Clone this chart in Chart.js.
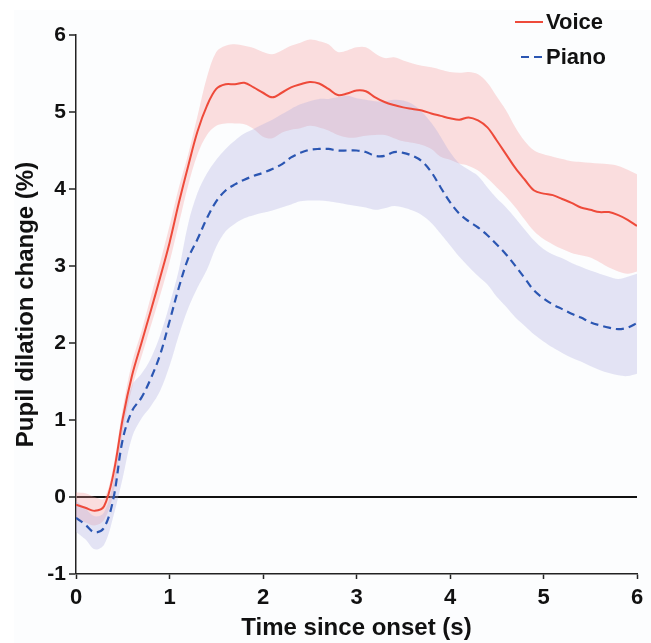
<!DOCTYPE html>
<html>
<head>
<meta charset="utf-8">
<script src="https://cdn.jsdelivr.net/npm/chart.js@4/dist/chart.umd.min.js"></script>
<style>
  html, body { margin: 0; padding: 0; background: #ffffff; }
  #wrap { width: 651px; height: 643px; position: relative; }
</style>
</head>
<body>
<div id="wrap"><canvas id="c" width="651" height="643"></canvas></div>
<script>
const times = [0.0,0.1,0.2,0.3,0.4,0.5,0.6,0.7,0.8,0.9,1.0,1.1,1.2,1.3,1.4,1.5,1.6,1.7,1.8,1.9,2.0,2.1,2.2,2.3,2.4,2.5,2.6,2.7,2.8,2.9,3.0,3.1,3.2,3.3,3.4,3.5,3.6,3.7,3.8,3.9,4.0,4.1,4.2,4.3,4.4,4.5,4.6,4.7,4.8,4.9,5.0,5.1,5.2,5.3,5.4,5.5,5.6,5.7,5.8,5.9,6.0];

const voiceMean = [-0.10,-0.14,-0.18,-0.12,0.30,1.02,1.58,2.00,2.42,2.85,3.30,3.82,4.30,4.75,5.08,5.30,5.36,5.36,5.38,5.32,5.25,5.19,5.25,5.32,5.36,5.39,5.37,5.30,5.22,5.24,5.28,5.27,5.19,5.13,5.09,5.06,5.04,5.02,4.98,4.95,4.92,4.90,4.93,4.89,4.80,4.63,4.45,4.27,4.12,3.98,3.94,3.92,3.87,3.82,3.76,3.73,3.70,3.70,3.66,3.60,3.52];
const voiceUpper = [0.06,0.05,0.00,-0.02,0.40,1.15,1.75,2.15,2.60,3.05,3.52,4.02,4.45,4.95,5.45,5.78,5.86,5.88,5.86,5.83,5.78,5.75,5.80,5.86,5.90,5.94,5.92,5.88,5.78,5.80,5.84,5.84,5.76,5.70,5.71,5.67,5.63,5.60,5.58,5.55,5.52,5.51,5.52,5.49,5.38,5.20,5.02,4.80,4.62,4.50,4.45,4.42,4.39,4.36,4.35,4.34,4.33,4.32,4.30,4.25,4.19];
const voiceLower = [-0.30,-0.33,-0.37,-0.30,0.05,0.85,1.42,1.82,2.22,2.62,3.05,3.55,4.05,4.45,4.70,4.82,4.85,4.85,4.84,4.78,4.68,4.66,4.73,4.77,4.79,4.82,4.80,4.76,4.70,4.67,4.67,4.69,4.70,4.70,4.66,4.62,4.60,4.57,4.52,4.42,4.38,4.33,4.30,4.24,4.14,4.02,3.90,3.76,3.60,3.45,3.35,3.28,3.22,3.17,3.14,3.11,3.05,2.98,2.93,2.90,2.93];

const pianoMean = [-0.27,-0.36,-0.46,-0.40,-0.02,0.75,1.12,1.29,1.54,1.85,2.28,2.72,3.10,3.35,3.62,3.84,3.98,4.06,4.12,4.17,4.21,4.26,4.32,4.41,4.47,4.51,4.52,4.52,4.50,4.50,4.50,4.48,4.43,4.43,4.48,4.47,4.43,4.36,4.22,4.02,3.83,3.68,3.58,3.50,3.40,3.28,3.15,3.00,2.84,2.68,2.58,2.50,2.44,2.38,2.33,2.27,2.23,2.20,2.18,2.20,2.26];
const pianoUpper = [-0.05,-0.15,-0.25,-0.20,0.20,1.00,1.45,1.60,1.80,2.10,2.50,2.95,3.55,3.95,4.20,4.38,4.52,4.63,4.72,4.78,4.84,4.90,4.97,5.04,5.10,5.14,5.17,5.17,5.19,5.21,5.18,5.16,5.14,5.14,5.16,5.15,5.10,5.00,4.86,4.68,4.48,4.33,4.25,4.17,4.02,3.88,3.76,3.62,3.47,3.33,3.22,3.15,3.10,3.04,2.99,2.94,2.90,2.86,2.83,2.86,2.90];
const pianoLower = [-0.45,-0.55,-0.68,-0.62,-0.25,0.25,0.78,1.02,1.18,1.38,1.70,2.10,2.45,2.72,2.95,3.25,3.45,3.55,3.62,3.66,3.69,3.72,3.76,3.80,3.84,3.85,3.85,3.84,3.82,3.80,3.78,3.76,3.73,3.75,3.78,3.76,3.72,3.66,3.56,3.42,3.27,3.12,2.99,2.87,2.76,2.60,2.47,2.33,2.22,2.11,2.02,1.94,1.87,1.81,1.76,1.70,1.65,1.61,1.58,1.57,1.60];

const xTicks = [0,1,2,3,4,5,6];
const yTicks = [-1,0,1,2,3,4,5,6];
const seriesNames = ['Voice', 'Piano'];

const pts = arr => times.map((t, i) => ({x: t, y: arr[i]}));

const RED = '#ee4a3a';
const BLUE = '#2b56b2';
const FONT = "'Liberation Sans', Arial, Helvetica, sans-serif";

const legendPlugin = {
  id: 'customLegend',
  afterDraw(chart) {
    const ctx = chart.ctx;
    ctx.save();
    ctx.font = 'bold 22px ' + FONT;
    ctx.fillStyle = '#111';
    ctx.textBaseline = 'middle';
    ctx.textAlign = 'left';
    ctx.strokeStyle = RED; ctx.lineWidth = 2; ctx.setLineDash([]);
    ctx.beginPath(); ctx.moveTo(515, 22); ctx.lineTo(543, 22); ctx.stroke();
    ctx.fillText(seriesNames[0], 546, 23);
    ctx.strokeStyle = BLUE; ctx.lineWidth = 2.2; ctx.setLineDash([8, 5]);
    ctx.beginPath(); ctx.moveTo(521, 57); ctx.lineTo(543, 57); ctx.stroke();
    ctx.setLineDash([]);
    ctx.fillText(seriesNames[1], 546, 58);
    ctx.restore();
  }
};

const bgPlugin = {
  id: 'bg',
  beforeDraw(chart) {
    const ctx = chart.ctx;
    ctx.save();
    ctx.fillStyle = '#fcfdfe';
    ctx.fillRect(14, 10, chart.width - 14, chart.height - 10);
    ctx.restore();
  }
};

new Chart(document.getElementById('c'), {
  type: 'line',
  data: {
    datasets: [
      { label: seriesNames[0], data: pts(voiceMean), borderColor: RED, borderWidth: 2, pointRadius: 0, fill: false, tension: 0.35, order: 0 },
      { label: seriesNames[1], data: pts(pianoMean), borderColor: BLUE, borderWidth: 2.2, borderDash: [8, 5], pointRadius: 0, fill: false, tension: 0.35, order: 1 },
      { label: 'PianoUpper', data: pts(pianoUpper), borderWidth: 0, borderColor: 'rgba(0,0,0,0)', backgroundColor: 'rgba(170,170,222,0.3)', pointRadius: 0, fill: 3, tension: 0.35, order: 2 },
      { label: 'PianoLower', data: pts(pianoLower), borderWidth: 0, borderColor: 'rgba(0,0,0,0)', pointRadius: 0, fill: false, tension: 0.35, order: 3 },
      { label: 'VoiceUpper', data: pts(voiceUpper), borderWidth: 0, borderColor: 'rgba(0,0,0,0)', backgroundColor: 'rgba(246,150,150,0.3)', pointRadius: 0, fill: 5, tension: 0.35, order: 4 },
      { label: 'VoiceLower', data: pts(voiceLower), borderWidth: 0, borderColor: 'rgba(0,0,0,0)', pointRadius: 0, fill: false, tension: 0.35, order: 5 }
    ]
  },
  options: {
    responsive: false,
    animation: false,
    devicePixelRatio: 1,
    layout: { padding: { top: 35, right: 14, left: 0, bottom: 0 } },
    plugins: { legend: { display: false }, tooltip: { enabled: false } },
    scales: {
      x: {
        type: 'linear', min: 0, max: 6,
        afterFit: s => { s.height = 69; },
        afterBuildTicks: s => { s.ticks = xTicks.map(v => ({ value: v })); },
        ticks: { font: { family: FONT, size: 22, weight: 'bold' }, color: '#111', padding: 6, maxRotation: 0 },
        grid: { drawOnChartArea: false, drawTicks: true, tickLength: 5, tickColor: '#222', tickWidth: 1.5 },
        border: { display: true, color: '#222', width: 1.5 },
        title: { display: true, text: 'Time since onset (s)', font: { family: FONT, size: 24, weight: 'bold' }, color: '#111', padding: { top: 0, bottom: 0 } }
      },
      y: {
        type: 'linear', min: -1, max: 6,
        afterFit: s => { s.width = 76; },
        afterBuildTicks: s => { s.ticks = yTicks.map(v => ({ value: v })); },
        ticks: { font: { family: FONT, size: 21, weight: 'bold' }, color: '#111', padding: 3 },
        grid: {
          drawOnChartArea: true, drawTicks: true, tickLength: 7,
          color: c => (c.tick && c.tick.value === 0) ? '#111' : 'rgba(0,0,0,0)',
          lineWidth: c => (c.tick && c.tick.value === 0) ? 2 : 0,
          tickColor: '#222', tickWidth: 1.5
        },
        border: { display: true, color: '#222', width: 1.5 },
        title: { display: true, text: 'Pupil dilation change (%)', font: { family: FONT, size: 24, weight: 'bold' }, color: '#111', padding: { top: 12, bottom: 0 } }
      }
    }
  },
  plugins: [bgPlugin, legendPlugin]
});
</script>
</body>
</html>
